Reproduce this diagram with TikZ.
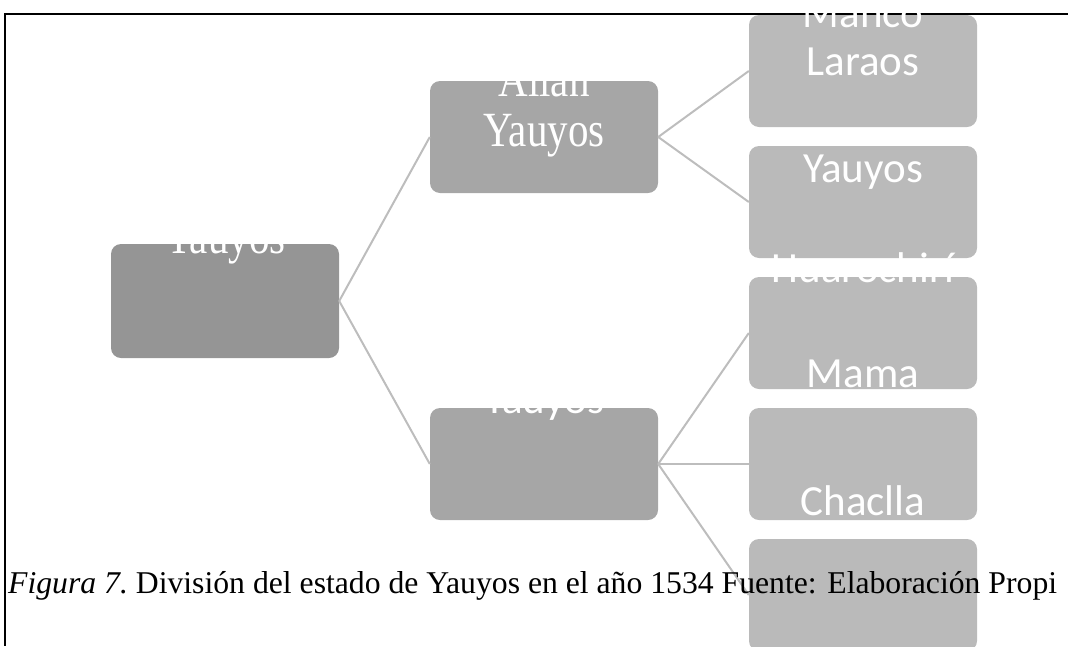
\documentclass[tikz,border=0pt]{standalone}
\usepackage{graphicx}
\usepackage{fontspec}
\setmainfont{Liberation Serif}
\newfontfamily\calibri{Carlito}
\definecolor{rootgray}{HTML}{959595}
\definecolor{midgray}{HTML}{A6A6A6}
\definecolor{leafgray}{HTML}{BABABA}
\definecolor{linkgray}{HTML}{BDBDBD}
\newcommand{\tallword}[1]{\scalebox{1}[1.2]{#1}}

\begin{document}
\begin{tikzpicture}[x=1pt,y=-1pt,
  box/.style={rectangle,rounded corners=10pt,minimum width=228pt,minimum height=112pt,inner sep=0pt},
  link/.style={linkgray,line width=2pt},
  serifword/.style={white,anchor=base,inner sep=0pt,font=\fontsize{41}{47}\selectfont},
  sansword/.style={white,anchor=base,inner sep=0pt,font=\calibri\fontsize{43}{52}\selectfont}]
\useasboundingbox (0,0) rectangle (1068,646);

\draw[line width=2pt] (1068,14) -- (5,14) -- (5,646);

%boxes
\node[box,fill=rootgray,minimum height=114pt] (root) at (225,301) {};
\node[box,fill=midgray] (allan) at (544,137) {};
\node[box,fill=midgray] (yauyosb) at (544,464) {};
\node[box,fill=leafgray] (laraos) at (863,71) {};
\node[box,fill=leafgray] (yauyosc) at (863,202) {};
\node[box,fill=leafgray] (mama) at (863,333) {};
\node[box,fill=leafgray] (chaclla) at (863,464) {};
\node[box,fill=leafgray] (empty) at (863,595) {};

\draw[link] (root.east) -- (allan.west);
\draw[link] (root.east) -- (yauyosb.west);
\draw[link] (allan.east) -- (laraos.west);
\draw[link] (allan.east) -- (yauyosc.west);
\draw[link] (yauyosb.east) -- (mama.west);
\draw[link] (yauyosb.east) -- (chaclla.west);
\draw[link] (yauyosb.east) -- (empty.west);

%texts, they run over the box tops
\node[serifword] (t-root) at (225,253) {\tallword{Yauyos}};
\node[serifword] (t-allan) at (544,96) {\tallword{Allan}};
\node[serifword] (t-allan2) at (544,146) {\tallword{Yauyos}};
\node[sansword] (t-yauyosb) at (544,413) {Yauyos};
\node[sansword] (t-manco) at (863,27) {Manco};
\node[sansword] (t-laraos) at (863,75) {Laraos};
\node[sansword] (t-yauyosc) at (863,182) {Yauyos};
\node[sansword] (t-huaro) at (863,282) {Huarochirí};
\node[sansword] (t-mama) at (863,387) {Mama};
\node[sansword] (t-chaclla) at (863,515) {Chaclla};

\node[anchor=base west,inner sep=0pt,font=\fontsize{31.7}{38}\selectfont] (caption) at (8,593)
 {\textit{Figura 7.}\ División del estado de Yauyos en el año 1534 Fuente: Elaboración Propi};

\end{tikzpicture}
\end{document}
